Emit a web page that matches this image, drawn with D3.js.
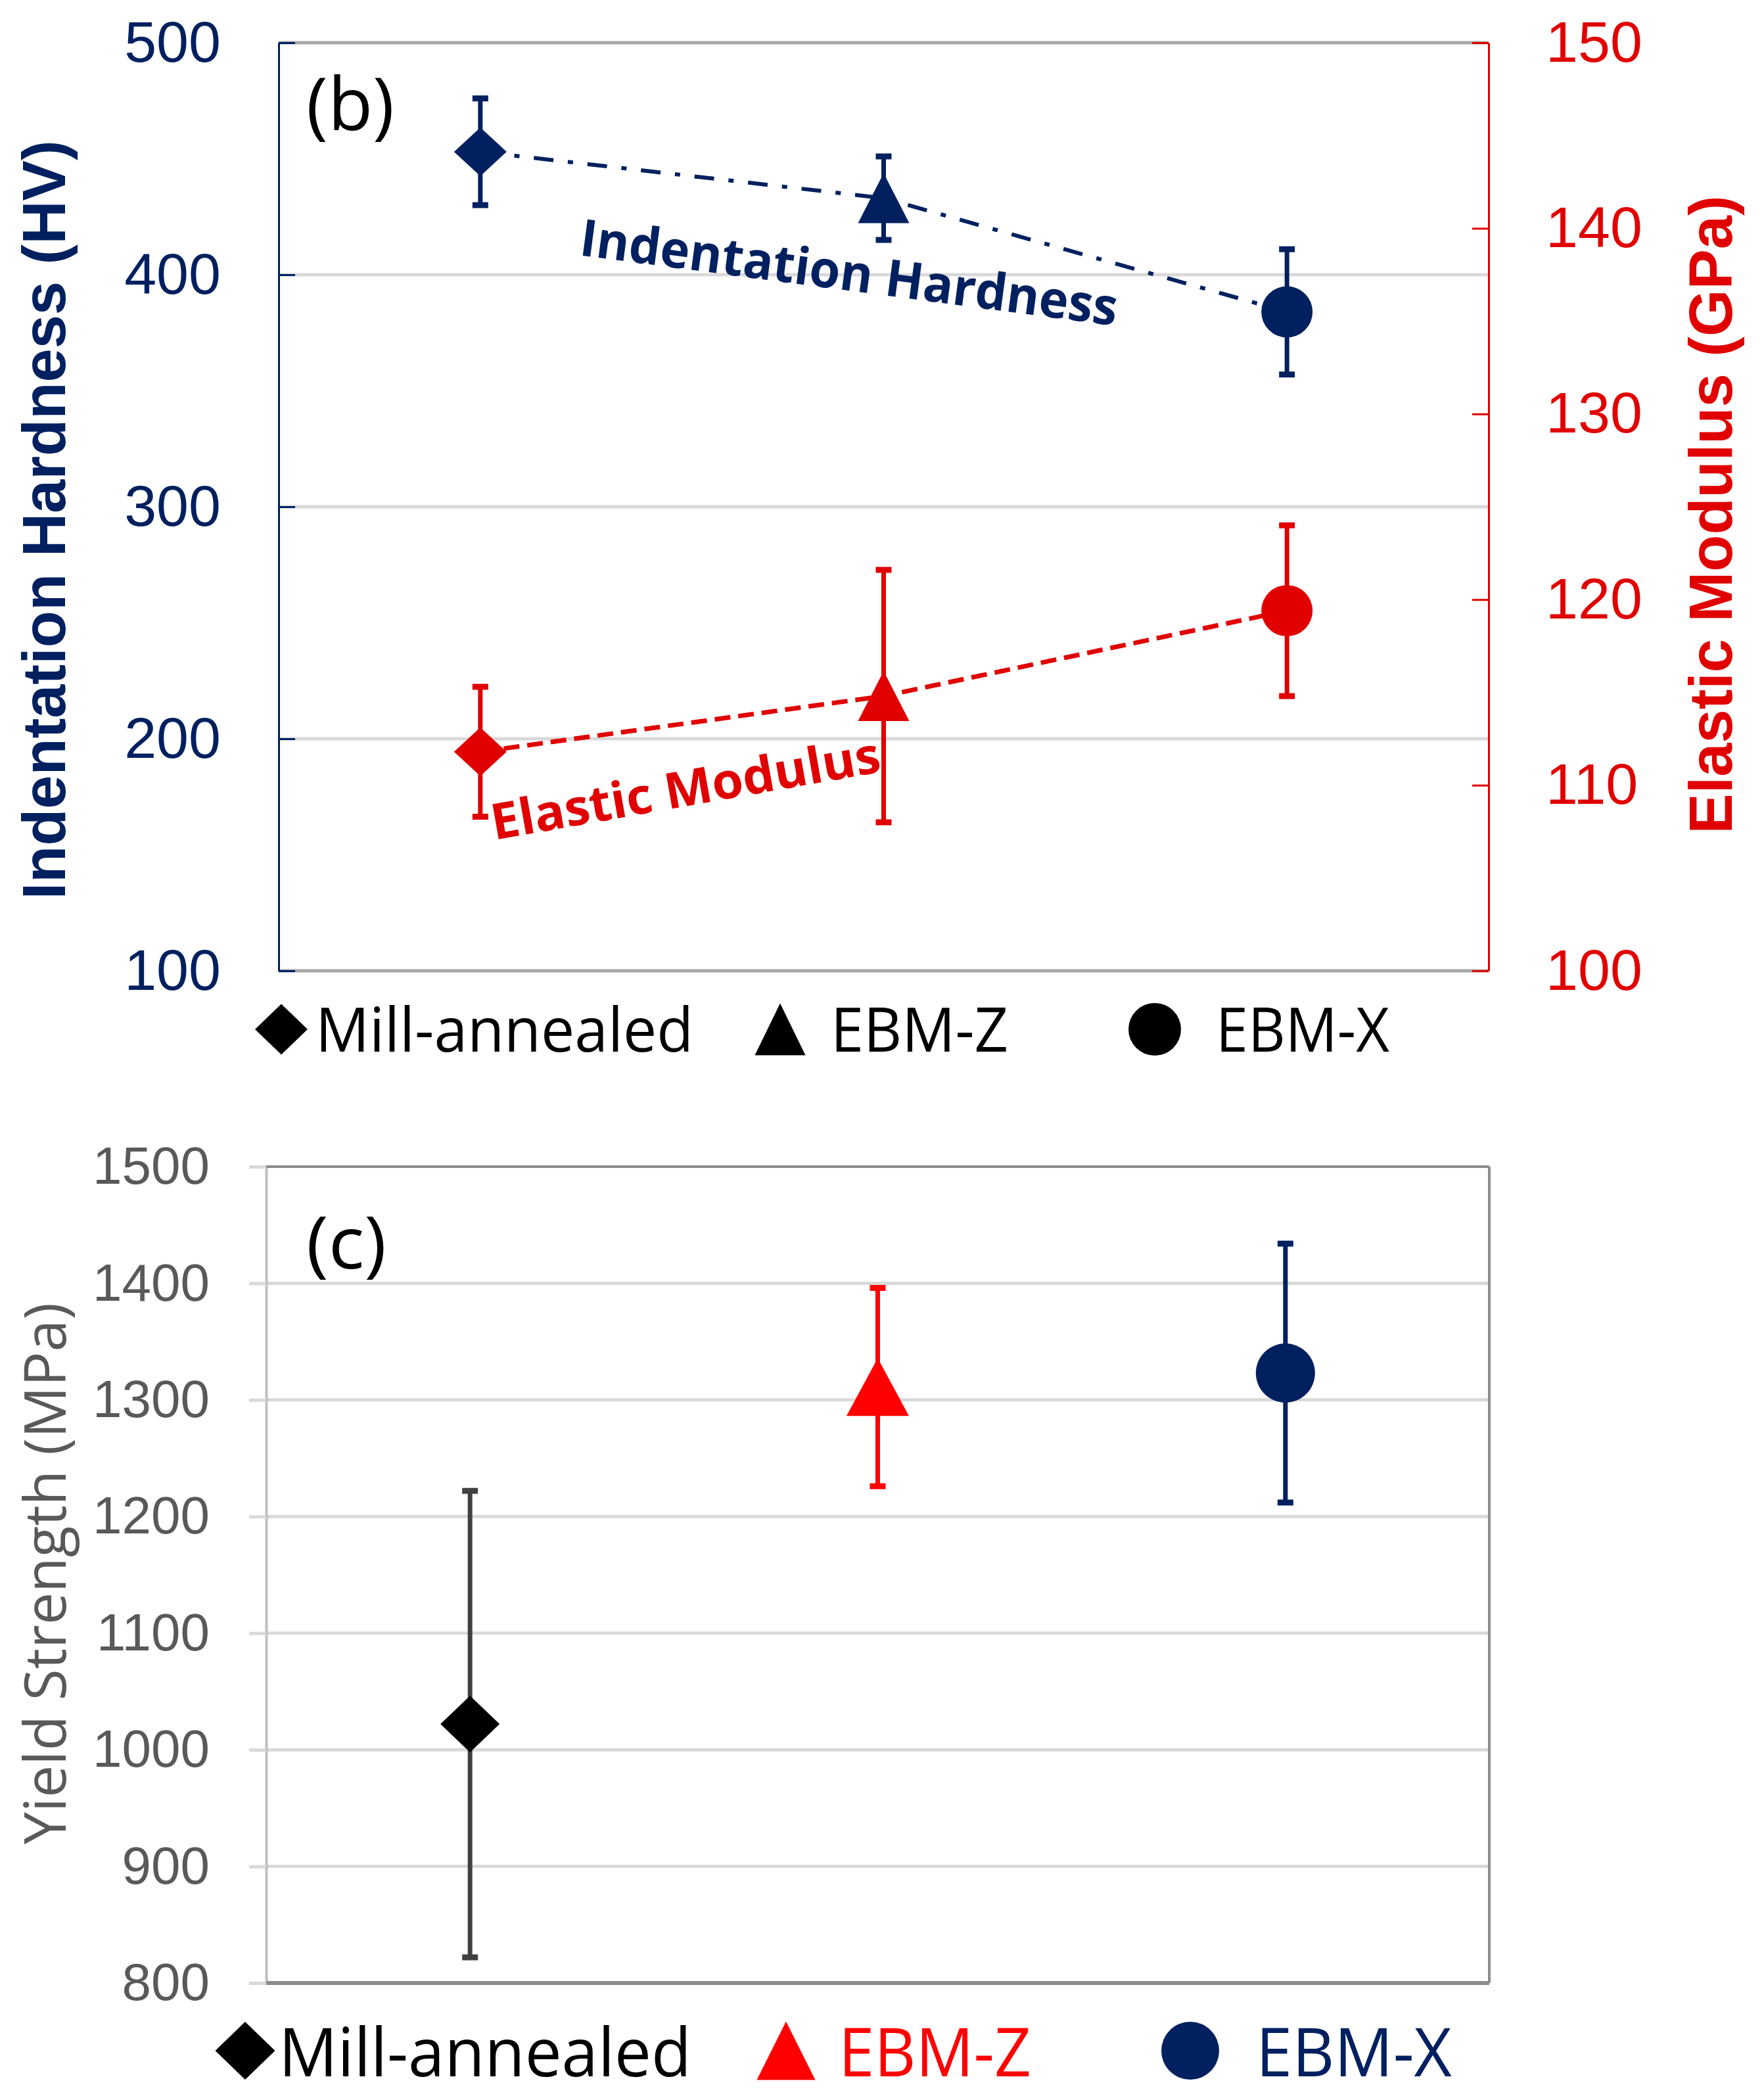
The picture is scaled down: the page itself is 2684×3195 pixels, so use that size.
<!DOCTYPE html>
<html>
<head>
<meta charset="utf-8">
<script src="https://cdn.jsdelivr.net/npm/d3@7"></script>
<style>
  body { margin: 0; background: #fff; }
</style>
</head>
<body>
<div id="container"></div>
<script>
// values
const categories = ["Mill-annealed", "EBM-Z", "EBM-X"];
const hardness = [453, 433, 384];
const hardnessErr = [23, 18, 27];
const modulus = [111.8, 114.8, 119.4];
const modulusErr = [3.5, 6.8, 4.6];
const yieldStrength = [1022, 1311, 1323];
const yieldErr = [200, 85, 111];
const hardTicks = [100, 200, 300, 400, 500];
const modTicks = [100, 110, 120, 130, 140, 150];
const yieldTicks = [800, 900, 1000, 1100, 1200, 1300, 1400, 1500];

const NAVY = "#002060";
const RED_B = "#e00000";
const RED_C = "#ff0000";
const GREY_TXT = "#595959";
const GRID = "#d9d9d9";
const BORDER = "#a6a6a6";

const width = 2684, height = 3195;
const svg = d3.select("#container").append("svg")
  .attr("width", width)
  .attr("height", height)
  .style("font-family", "'Open Sans', sans-serif");

// marker shapes
const diamond = (w, h) => ({ draw(ctx) {
  ctx.moveTo(0, -h / 2); ctx.lineTo(w / 2, 0); ctx.lineTo(0, h / 2); ctx.lineTo(-w / 2, 0); ctx.closePath();
}});
const triangle = (w, h) => ({ draw(ctx) {
  ctx.moveTo(0, -h / 2); ctx.lineTo(w / 2, h / 2); ctx.lineTo(-w / 2, h / 2); ctx.closePath();
}});
const circle = (d) => ({ draw(ctx) { ctx.moveTo(d / 2, 0); ctx.arc(0, 0, d / 2, 0, 2 * Math.PI); } });

function errorBar(g, x, yTop, yBot, color, capW) {
  g.append("line").attr("x1", x).attr("x2", x).attr("y1", yTop).attr("y2", yBot)
    .attr("stroke", color).attr("stroke-width", 7);
  [yTop, yBot].forEach(y => {
    g.append("line").attr("x1", x - capW / 2).attr("x2", x + capW / 2).attr("y1", y).attr("y2", y)
      .attr("stroke", color).attr("stroke-width", 9);
  });
}

// ================= Panel (b) =================
const bLeft = 424, bRight = 2265, bTop = 65, bBottom = 1477;
const xB = d3.scalePoint().domain(categories).range([bLeft, bRight]).padding(0.5);
const yHard = d3.scaleLinear().domain([100, 500]).range([bBottom, bTop]);
const yMod = d3.scaleLinear().domain([100, 150]).range([bBottom, bTop]);

const gB = svg.append("g");

// gridlines
gB.selectAll("line.grid").data(hardTicks.filter(t => t > 100 && t < 500)).enter()
  .append("line")
  .attr("x1", bLeft).attr("x2", bRight)
  .attr("y1", d => yHard(d)).attr("y2", d => yHard(d))
  .attr("stroke", GRID).attr("stroke-width", 5);
[100, 500].forEach(t => {
  gB.append("line").attr("x1", bLeft).attr("x2", bRight)
    .attr("y1", yHard(t)).attr("y2", yHard(t))
    .attr("stroke", BORDER).attr("stroke-width", 5);
});

const axL = gB.append("g")
  .attr("transform", `translate(${bLeft},0)`)
  .style("color", NAVY)
  .call(d3.axisLeft(yHard).tickValues(hardTicks).tickSizeInner(-25).tickSizeOuter(0).tickPadding(88));
axL.select(".domain").attr("stroke-width", 3);
axL.selectAll(".tick line").attr("stroke-width", 3);
axL.selectAll("text").style("font-family", "'Liberation Sans', Arial, sans-serif").style("font-size", "88px");

const axR = gB.append("g")
  .attr("transform", `translate(${bRight},0)`)
  .style("color", RED_B)
  .call(d3.axisRight(yMod).tickValues(modTicks).tickSizeInner(-25).tickSizeOuter(0).tickPadding(87));
axR.select(".domain").attr("stroke-width", 3);
axR.selectAll(".tick line").attr("stroke-width", 3);
axR.selectAll("text").style("font-family", "'Liberation Sans', Arial, sans-serif").style("font-size", "88px");

// axis titles
gB.append("text")
  .attr("transform", `translate(66,${(bTop + bBottom) / 2 + 20}) rotate(-90)`)
  .attr("text-anchor", "middle").attr("dy", "0.36em")
  .style("font-family", "'Liberation Sans', Arial, sans-serif")
  .style("font-weight", "bold").style("font-size", "92px")
  .attr("fill", NAVY)
  .text("Indentation Hardness (HV)");
gB.append("text")
  .attr("transform", `translate(2602,783) rotate(-90)`)
  .attr("text-anchor", "middle").attr("dy", "0.36em")
  .style("font-family", "'Liberation Sans', Arial, sans-serif")
  .style("font-weight", "bold").style("font-size", "92px")
  .attr("fill", RED_B)
  .text("Elastic Modulus (GPa)");

// connecting lines
const hardPts = categories.map((c, i) => [xB(c), yHard(hardness[i])]);
const modPts = categories.map((c, i) => [xB(c), yMod(modulus[i])]);
gB.append("path").attr("d", d3.line()(hardPts))
  .attr("fill", "none").attr("stroke", NAVY).attr("stroke-width", 6)
  .attr("stroke-dasharray", "30,22,8,22");
gB.append("path").attr("d", d3.line()(modPts))
  .attr("fill", "none").attr("stroke", RED_B).attr("stroke-width", 7)
  .attr("stroke-dasharray", "24,12");

const shapesB = [diamond(80, 74), triangle(78, 76), circle(78)];

categories.forEach((c, i) => {
  const x = xB(c);
  errorBar(gB, x, yHard(hardness[i] + hardnessErr[i]), yHard(hardness[i] - hardnessErr[i]), NAVY, 24);
  gB.append("path").attr("transform", `translate(${x},${yHard(hardness[i])})`)
    .attr("d", d3.symbol().type(shapesB[i])()).attr("fill", NAVY);
  errorBar(gB, x, yMod(modulus[i] + modulusErr[i]), yMod(modulus[i] - modulusErr[i]), RED_B, 24);
  gB.append("path").attr("transform", `translate(${x},${yMod(modulus[i])})`)
    .attr("d", d3.symbol().type(shapesB[i])()).attr("fill", RED_B);
});

// annotations
gB.append("text").attr("x", 466).attr("y", 198)
  .attr("textLength", 134).attr("lengthAdjust", "spacingAndGlyphs")
  .style("font-size", "112px").attr("fill", "#000").text("(b)");
gB.append("text")
  .attr("transform", "translate(880,388) rotate(7.5)")
  .attr("textLength", 824).attr("lengthAdjust", "spacingAndGlyphs")
  .style("font-size", "78px").style("font-weight", "bold").attr("fill", NAVY)
  .text("Indentation Hardness");
gB.append("text")
  .attr("transform", "translate(752,1278) rotate(-10)")
  .attr("textLength", 600).attr("lengthAdjust", "spacingAndGlyphs")
  .style("font-size", "76px").style("font-weight", "bold").attr("fill", RED_B)
  .text("Elastic Modulus");

// legend (b)
const legB = [
  { shape: diamond(80, 77), mx: 428, tx: 480, tEnd: 1055 },
  { shape: triangle(77, 79), mx: 1187, tx: 1264, tEnd: 1534 },
  { shape: circle(80), mx: 1757, tx: 1850, tEnd: 2114 }
];
legB.forEach((l, i) => {
  gB.append("path").attr("transform", `translate(${l.mx},1566)`)
    .attr("d", d3.symbol().type(l.shape)()).attr("fill", "#000");
  gB.append("text").attr("x", l.tx).attr("y", 1600)
    .attr("textLength", l.tEnd - l.tx).attr("lengthAdjust", "spacingAndGlyphs")
    .style("font-size", "94px").attr("fill", "#000").text(categories[i]);
});

// ================= Panel (c) =================
const cLeft = 405, cRight = 2266, cTop = 1775, cBottom = 3017;
const xC = d3.scalePoint().domain(categories).range([cLeft, cRight]).padding(0.5);
const yYS = d3.scaleLinear().domain([800, 1500]).range([cBottom, cTop]);

const gC = svg.append("g");

gC.selectAll("line.grid").data(yieldTicks.filter(t => t > 800 && t < 1500)).enter()
  .append("line")
  .attr("x1", cLeft).attr("x2", cRight)
  .attr("y1", d => yYS(d)).attr("y2", d => yYS(d))
  .attr("stroke", GRID).attr("stroke-width", 5);

const axC = gC.append("g")
  .attr("transform", `translate(${cLeft},0)`)
  .style("color", GREY_TXT)
  .call(d3.axisLeft(yYS).tickValues(yieldTicks).tickFormat(d3.format("d"))
    .tickSizeInner(26).tickSizeOuter(0).tickPadding(60));
axC.select(".domain").attr("stroke", "#bfbfbf").attr("stroke-width", 4);
axC.selectAll(".tick line").attr("stroke", GRID).attr("stroke-width", 5);
axC.selectAll("text").style("font-size", "80px");

// plot border
gC.append("line").attr("x1", cLeft).attr("x2", cRight).attr("y1", cTop).attr("y2", cTop)
  .attr("stroke", "#8c8c8c").attr("stroke-width", 4);
gC.append("line").attr("x1", cLeft).attr("x2", cRight).attr("y1", cBottom).attr("y2", cBottom)
  .attr("stroke", "#8c8c8c").attr("stroke-width", 6);
gC.append("line").attr("x1", cRight).attr("x2", cRight).attr("y1", cTop).attr("y2", cBottom)
  .attr("stroke", "#8c8c8c").attr("stroke-width", 4);

gC.append("text")
  .attr("transform", `translate(68,2394) rotate(-90)`)
  .attr("text-anchor", "middle").attr("dy", "0.36em")
  .attr("textLength", 824).attr("lengthAdjust", "spacingAndGlyphs")
  .style("font-size", "88px").attr("fill", GREY_TXT)
  .text("Yield Strength (MPa)");

gC.append("text").attr("x", 466).attr("y", 1930)
  .attr("textLength", 122).attr("lengthAdjust", "spacingAndGlyphs")
  .style("font-size", "110px").attr("fill", "#000").text("(c)");

const colorsC = ["#000", RED_C, NAVY];
const barColorsC = ["#404040", RED_C, NAVY];
const shapesC = [diamond(90, 86), triangle(95, 88), circle(90)];
categories.forEach((c, i) => {
  const x = xC(c);
  errorBar(gC, x, yYS(yieldStrength[i] + yieldErr[i]), yYS(yieldStrength[i] - yieldErr[i]), barColorsC[i], 24);
  gC.append("path").attr("transform", `translate(${x},${yYS(yieldStrength[i])})`)
    .attr("d", d3.symbol().type(shapesC[i])()).attr("fill", colorsC[i]);
});

// legend (c)
const legC = [
  { shape: diamond(91, 88), mx: 373, tx: 424, tEnd: 1052 },
  { shape: triangle(89, 89), mx: 1196, tx: 1276, tEnd: 1569 },
  { shape: circle(88), mx: 1811, tx: 1911, tEnd: 2209 }
];
legC.forEach((l, i) => {
  gC.append("path").attr("transform", `translate(${l.mx},3120)`)
    .attr("d", d3.symbol().type(l.shape)()).attr("fill", colorsC[i]);
  gC.append("text").attr("x", l.tx).attr("y", 3159)
    .attr("textLength", l.tEnd - l.tx).attr("lengthAdjust", "spacingAndGlyphs")
    .style("font-size", "103px").attr("fill", colorsC[i]).text(categories[i]);
});
</script>
</body>
</html>
